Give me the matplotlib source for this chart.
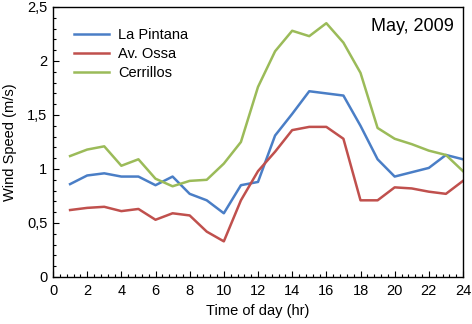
import matplotlib
matplotlib.use("Agg")
import matplotlib.pyplot as plt
from matplotlib.ticker import MultipleLocator, FuncFormatter

plt.rcParams['font.family'] = ['Liberation Sans', 'DejaVu Sans']

hours = list(range(1, 25))
la_pintana = [0.86, 0.94, 0.96, 0.93, 0.93, 0.85, 0.93, 0.77, 0.71, 0.59, 0.85, 0.88,
              1.31, 1.51, 1.72, 1.70, 1.68, 1.40, 1.09, 0.93, 0.97, 1.01, 1.13, 1.09]
av_ossa = [0.62, 0.64, 0.65, 0.61, 0.63, 0.53, 0.59, 0.57, 0.42, 0.33, 0.71, 0.98,
           1.16, 1.36, 1.39, 1.39, 1.28, 0.71, 0.71, 0.83, 0.82, 0.79, 0.77, 0.89]
cerrillos = [1.12, 1.18, 1.21, 1.03, 1.09, 0.91, 0.84, 0.89, 0.90, 1.05, 1.25, 1.76,
             2.09, 2.28, 2.23, 2.35, 2.17, 1.89, 1.38, 1.28, 1.23, 1.17, 1.13, 0.98]
series_names = ["La Pintana", "Av. Ossa", "Cerrillos"]
colors = ["#4A7EC6", "#C0504D", "#9BBB59"]

fig = plt.figure(figsize=(4.72, 3.24), dpi=100)
ax = fig.add_axes([53/472, 47/324, 410/472, 270/324])

for vals, name, c in zip([la_pintana, av_ossa, cerrillos], series_names, colors):
    ax.plot(hours, vals, color=c, lw=1.8, label=name)

ax.set_xlim(0, 24)
ax.set_ylim(0, 2.5)
ax.xaxis.set_major_locator(MultipleLocator(2))
ax.xaxis.set_minor_locator(MultipleLocator(0.4))
ax.yaxis.set_major_locator(MultipleLocator(0.5))
ax.yaxis.set_minor_locator(MultipleLocator(0.1))
ax.yaxis.set_major_formatter(FuncFormatter(lambda v, p: f"{v:g}".replace('.', ',')))
ax.tick_params(which='major', direction='in', length=4, width=0.8, labelsize=10.5, colors='black')
ax.tick_params(which='minor', direction='in', length=2.5, width=0.8)
ax.tick_params(axis='x', pad=5)
ax.tick_params(axis='y', pad=4)
for s in ax.spines.values():
    s.set_linewidth(1.0)

ax.set_xlabel("Time of day (hr)", fontsize=10.5, labelpad=4)
ax.set_ylabel("Wind Speed (m/s)", fontsize=10.5, labelpad=7)

ax.legend(loc='upper left', frameon=False, fontsize=10.5, handlelength=2.4,
          bbox_to_anchor=(0.02, 0.97), labelspacing=0.35, handletextpad=0.6)
ax.text(0.978, 0.96, "May, 2009", transform=ax.transAxes, ha='right', va='top', fontsize=13)

fig.savefig("out.png", dpi=100)
